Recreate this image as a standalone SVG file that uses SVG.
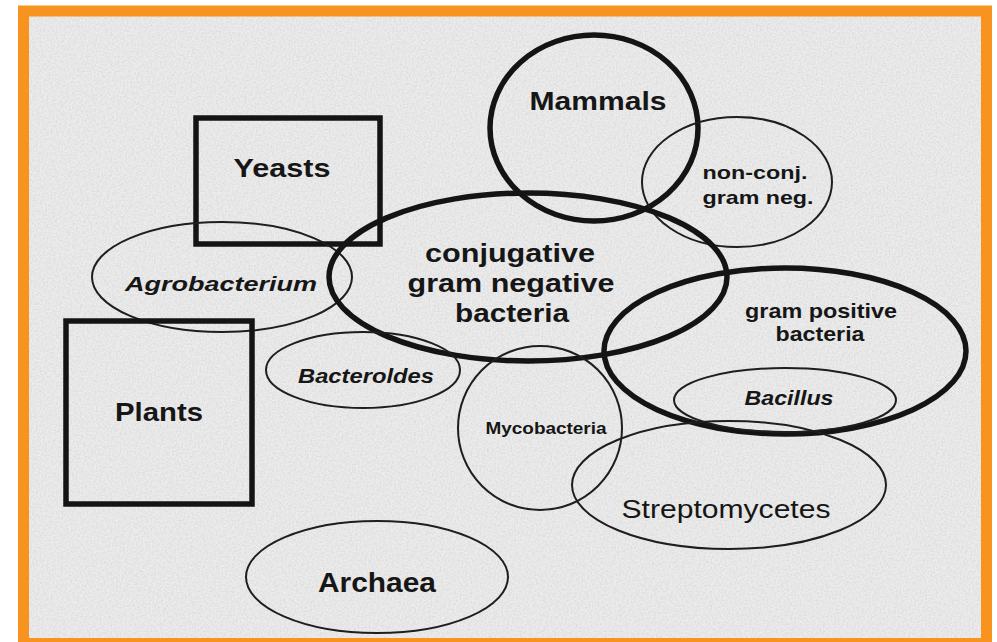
<svg xmlns="http://www.w3.org/2000/svg" width="997" height="642" viewBox="0 0 997 642">
<style>
.thick{fill:none;stroke:#141414;stroke-width:5.5}
.thin{fill:none;stroke:#1e1e1e;stroke-width:2}
text{font-family:"Liberation Sans",Arial,sans-serif;fill:#161616;text-anchor:middle}
.b{font-weight:bold}
.bi{font-weight:bold;font-style:italic}
</style>
<defs>
<filter id="grain" x="0" y="0" width="100%" height="100%">
<feTurbulence type="fractalNoise" baseFrequency="0.55" numOctaves="3" seed="4" result="n"/>
<feColorMatrix in="n" type="matrix" values="0 0 0 0 0.55  0 0 0 0 0.55  0 0 0 0 0.55  0 0 0 -1.6 1.05" result="g"/>
<feComposite in="g" in2="SourceGraphic" operator="in"/>
</filter>
</defs>
<rect x="0" y="0" width="997" height="642" fill="#ffffff"/>
<rect x="29" y="16" width="952" height="622" fill="#ececec"/>
<rect x="29" y="16" width="952" height="622" fill="#ececec" filter="url(#grain)" opacity="0.5"/>
<rect x="23.5" y="11" width="963" height="632.5" fill="none" stroke="#f7931e" stroke-width="11"/>

<g id="yeasts">
<rect class="thick" x="196" y="118" width="184" height="126"/>
<text class="b" x="282" y="177" font-size="25" textLength="97" lengthAdjust="spacingAndGlyphs">Yeasts</text>
</g>
<g id="mammals">
<ellipse class="thick" cx="594" cy="128" rx="104" ry="93"/>
<text class="b" x="598" y="110" font-size="25" textLength="137" lengthAdjust="spacingAndGlyphs">Mammals</text>
</g>
<g id="nonconj">
<ellipse class="thin" cx="737" cy="182" rx="95" ry="65"/>
<text class="b" x="755" y="179" font-size="19" textLength="105" lengthAdjust="spacingAndGlyphs">non-conj.</text>
<text class="b" x="758" y="204" font-size="19" textLength="111" lengthAdjust="spacingAndGlyphs">gram neg.</text>
</g>
<g id="agrobacterium">
<ellipse class="thin" cx="222" cy="277" rx="130" ry="55"/>
<text class="bi" x="221" y="291" font-size="21" textLength="192" lengthAdjust="spacingAndGlyphs">Agrobacterium</text>
</g>
<g id="conjugative">
<ellipse class="thick" cx="528" cy="277" rx="199" ry="84"/>
<text class="b" x="510" y="262" font-size="25" textLength="170" lengthAdjust="spacingAndGlyphs">conjugative</text>
<text class="b" x="511" y="292" font-size="25" textLength="207" lengthAdjust="spacingAndGlyphs">gram negative</text>
<text class="b" x="512" y="322" font-size="25" textLength="114" lengthAdjust="spacingAndGlyphs">bacteria</text>
</g>
<g id="grampositive">
<ellipse class="thick" cx="785" cy="351" rx="181" ry="83"/>
<text class="b" x="821" y="318" font-size="21" textLength="152" lengthAdjust="spacingAndGlyphs">gram positive</text>
<text class="b" x="820" y="341" font-size="21" textLength="89" lengthAdjust="spacingAndGlyphs">bacteria</text>
</g>
<g id="bacillus">
<ellipse class="thin" cx="785" cy="400" rx="111" ry="32"/>
<text class="bi" x="789" y="405" font-size="21" textLength="89" lengthAdjust="spacingAndGlyphs">Bacillus</text>
</g>
<g id="plants">
<rect class="thick" x="66" y="321" width="186" height="183"/>
<text class="b" x="159" y="421" font-size="26" textLength="88" lengthAdjust="spacingAndGlyphs">Plants</text>
</g>
<g id="bacteroides">
<ellipse class="thin" cx="363" cy="370" rx="97" ry="38"/>
<text class="bi" x="366" y="383" font-size="19.5" textLength="136" lengthAdjust="spacingAndGlyphs">Bacteroldes</text>
</g>
<g id="mycobacteria">
<ellipse class="thin" cx="540" cy="428" rx="82" ry="82"/>
<text class="b" x="546" y="434" font-size="16" textLength="121" lengthAdjust="spacingAndGlyphs">Mycobacteria</text>
</g>
<g id="streptomycetes">
<ellipse class="thin" cx="729" cy="485" rx="157" ry="64"/>
<text x="726" y="518" font-size="26.5" textLength="209" lengthAdjust="spacingAndGlyphs">Streptomycetes</text>
</g>
<g id="archaea">
<ellipse class="thin" cx="377" cy="577" rx="131" ry="56"/>
<text class="b" x="377" y="592" font-size="27" textLength="118" lengthAdjust="spacingAndGlyphs">Archaea</text>
</g>
</svg>
